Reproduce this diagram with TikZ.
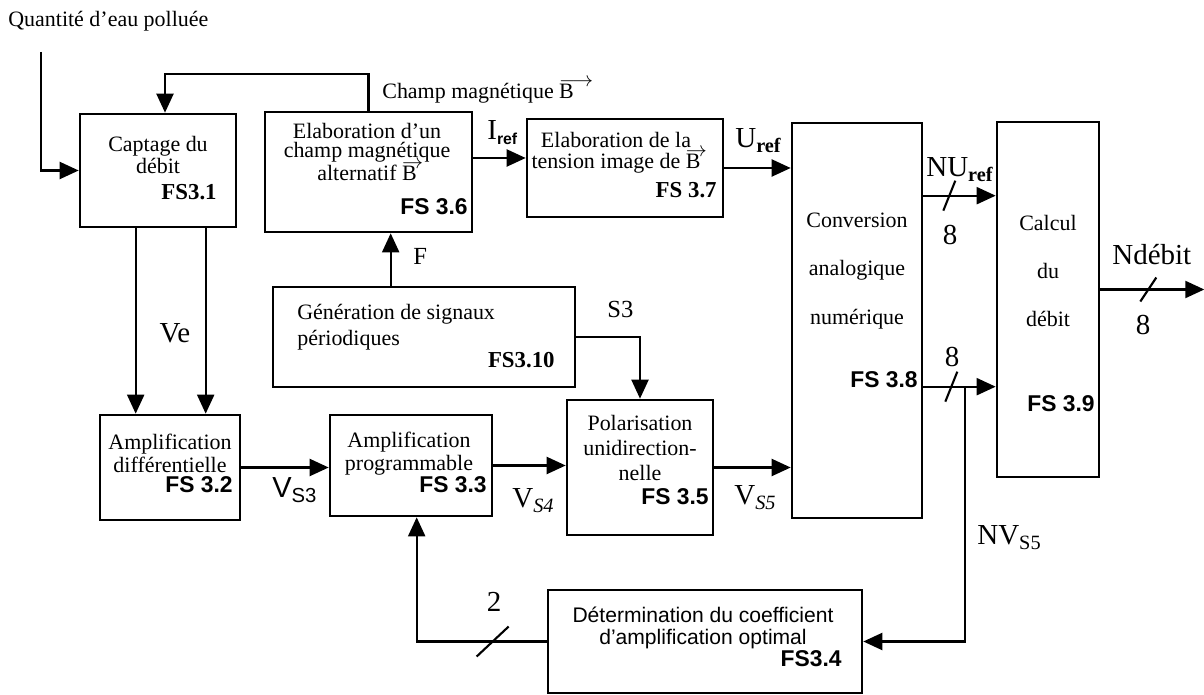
\documentclass[tikz,border=0pt]{standalone}
\usepackage{fontspec}
\setmainfont{Liberation Serif}
\setsansfont{Liberation Sans}
\usetikzlibrary{positioning, calc, arrows.meta}
\tikzset{
  blk/.style={draw, line width=1.5pt, inner sep=0pt},
  sz/.style 2 args={minimum width=#1*0.02cm, minimum height=#2*0.02cm},
  wire/.style={line width=1.2pt},
  arr/.style={wire, -{Triangle[length=0.38cm, width=0.34cm]}},
  txt/.style={font=\fontsize{12.5}{13}\selectfont, align=center, inner sep=0pt},
  sftxt/.style={font=\fontsize{12}{13}\selectfont\sffamily, align=center, inner sep=0pt},
  fsf/.style={font=\fontsize{13}{13}\selectfont\sffamily\bfseries, inner sep=0pt, anchor=base east},
  fst/.style={font=\fontsize{13}{13}\selectfont\bfseries, inner sep=0pt, anchor=base east},
  big/.style={font=\fontsize{16.5}{18}\selectfont, inner sep=0pt},
}
\newcommand{\busmark}[3]{\draw[wire] ($(#1)+(-#2,#3)$) -- ($(#1)+(#2,-#3)$);}
\newcommand{\vecB}[1][\rightarrow]{\rlap{\raisebox{1.2ex}{$#1$}}B}

\begin{document}
\begin{tikzpicture}[x=0.02cm, y=-0.02cm]
            \useasboundingbox (0,0) rectangle (1204,695);

            % Function blocks
            \node[blk, sz={156}{113}] (cap) at (158,170.5) {};
            \node[blk, sz={207}{120}] (champ) at (368.5,172) {};
            \node[blk, sz={196}{98}] (tens) at (625,168) {};
            \node[blk, sz={130}{395}] (can) at (857,320.5) {};
            \node[blk, sz={102}{355}] (calc) at (1048,299.5) {};
            \node[blk, sz={302}{100}] (gen) at (424,337) {};
            \node[blk, sz={140}{105}] (diff) at (170,467.5) {};
            \node[blk, sz={162}{101}] (prog) at (411,465.5) {};
            \node[blk, sz={146}{135}] (pol) at (640,467.5) {};
            \node[blk, sz={314}{103}] (det) at (705,641.5) {};

            % Block texts
            \node[txt] (capT) at (158,155) {Captage du\\débit};
            \node[fst] (fs31) at (217,200) {FS3.1};
            \node[txt] (champT) at (367,152) {Elaboration d’un\\[-2pt]champ magnétique\\[-2pt]alternatif \vecB};
            \node[fsf] (fs36) at (468,215) {FS 3.6};
            \node[txt] (tensT) at (616,153) {Elaboration de la\\[-1pt]tension image de \vecB};
            \node[fst] (fs37) at (717,198) {FS 3.7};
            \node[txt] (canT) at (857,271) {Conversion\\[14.5pt]analogique\\[14.5pt]numérique};
            \node[fsf] (fs38) at (918,388) {FS 3.8};
            \node[txt] (calcT) at (1048,271) {Calcul\\[14.5pt]du\\[14.5pt]débit};
            \node[fsf] (fs39) at (1095,412) {FS 3.9};
            \node[txt, align=left, anchor=west] (genT) at (297,327) {Génération de signaux\\[2pt]périodiques};
            \node[fst] (fs310) at (555,368) {FS3.10};
            \node[txt] (diffT) at (170,453.5) {Amplification\\différentielle};
            \node[fsf] (fs32) at (233,493) {FS 3.2};
            \node[txt] (progT) at (409,453.5) {Amplification\\programmable};
            \node[fsf] (fs33) at (487,493) {FS 3.3};
            \node[txt] (polT) at (640,448) {Polarisation\\[1pt]unidirection-\\[1pt]nelle};
            \node[fsf] (fs35) at (709,505) {FS 3.5};
            \node[sftxt] (detT) at (703,628) {Détermination du coefficient\\d’amplification optimal};
            \node[fsf] (fs34) at (842,666) {FS3.4};

            % Signal names
            \node[txt, anchor=base west] (quant) at (8,27) {Quantité d’eau polluée};
            \node[txt, anchor=base west] (champL) at (382,99) {Champ magnétique \vecB[\longrightarrow]};
            \node[txt, anchor=base west, font=\fontsize{14}{14}\selectfont] (fL) at (413,265) {F};
            \node[txt, anchor=base west, font=\fontsize{14}{14}\selectfont] (s3L) at (607,318) {S3};
            \node[big, anchor=base] (veL) at (175,343) {Ve};
            \node[big, anchor=base west] (vs3L) at (272,498) {\sffamily V\textsubscript{S3}};
            \node[big, anchor=base west] (vs4L) at (512,508) {V\textsubscript{\itshape S4}};
            \node[big, anchor=base west] (vs5L) at (734,505) {V\textsubscript{\itshape S5}};
            \node[big, anchor=base west] (irefL) at (487,140) {I\textsubscript{\fontsize{9}{9}\selectfont\sffamily\bfseries ref}};
            \node[big, anchor=base west] (urefL) at (735,148) {U\textsubscript{\bfseries ref}};
            \node[big, anchor=base west] (nurefL) at (926,177) {NU\textsubscript{\bfseries ref}};
            \node[big, anchor=base] (n8a) at (950,245) {8};
            \node[big, anchor=base] (n8b) at (952,367) {8};
            \node[big, anchor=base west] (ndebL) at (1112,265) {Ndébit};
            \node[big, anchor=base] (n8c) at (1143,335) {8};
            \node[big, anchor=base west] (nvL) at (977,545) {NV\textsubscript{S5}};
            \node[big, anchor=base] (n2) at (494,612) {2};

            % Input and field feedback
            \coordinate (inp) at (41,52);
            \draw[arr] (inp) |- (cap.west);
            \draw[arr] (champ.north) -- ++(0,-37) -| ($(cap.north)+(7,0)$);

            % Ve pair
            \coordinate (ve1) at ($(cap.south west)+(57,0)$);
            \coordinate (ve2) at ($(cap.south west)+(127,0)$);
            \draw[arr] (ve1) -- (ve1 |- diff.north);
            \draw[arr] (ve2) -- (ve2 |- diff.north);

            % Main chain
            \draw[arr] (diff.east) -- (diff.east -| prog.west);
            \draw[arr] (prog.east) -- (prog.east -| pol.west);
            \draw[arr] (pol.east) -- (pol.east -| can.west);

            % Periodic signals
            \coordinate (fsrc) at ($(gen.north west)+(119,0)$);
            \draw[arr] (fsrc) -- (fsrc |- champ.south);
            \draw[arr] (gen.east) -| (pol.north);

            % Reference path
            \coordinate (iref) at ($(champ.east)+(0,-14)$);
            \draw[arr] (iref) -- (iref -| tens.west);
            \draw[arr] (tens.east) -- (tens.east -| can.west);

            % Digital buses
            \coordinate (nuref) at ($(can.north east)+(0,74)$);
            \draw[arr] (nuref) -- (nuref -| calc.west);
            \coordinate (nvs5) at ($(can.north east)+(0,265)$);
            \draw[arr] (nvs5) -- (nvs5 -| calc.west);
            \coordinate (br) at ($(nvs5)+(42,0)$);
            \draw[arr] (br) |- (det.east);
            \draw[arr] (det.west) -| ($(prog.south west)+(88,0)$);
            \coordinate (ndeb) at ($(calc.east)+(0,-10)$);
            \coordinate (out) at ($(ndeb)+(104,0)$);
            \draw[arr] (ndeb) -- (out);

            % Bus width marks
            \coordinate (m1) at ($(nuref)+(26,0)$);
            \coordinate (m2) at ($(nvs5)+(28,0)$);
            \coordinate (m3) at ($(ndeb)+(48,0)$);
            \coordinate (m4) at ($(det.west)+(-54,0)$);
            \busmark{m1}{6}{15}
            \busmark{m2}{6}{15}
            \busmark{m3}{8}{12}
            \busmark{m4}{16}{15}
        \end{tikzpicture}
\end{document}
